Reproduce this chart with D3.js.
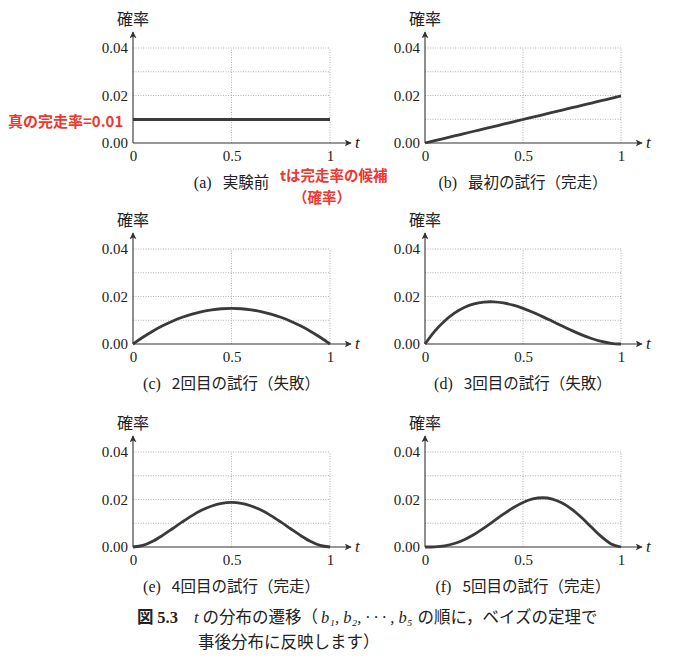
<!DOCTYPE html>
<html>
<head>
<meta charset="utf-8">
<script src="https://cdn.jsdelivr.net/npm/d3@7"></script>
<style>
  body { margin: 0; background: #fff; }
  svg { display: block; }
</style>
</head>
<body>
<svg width="685" height="659"></svg>
<script>
// t values (candidate completion rates)
var tValues = [0, 0.05, 0.1, 0.15, 0.2, 0.25, 0.3, 0.35, 0.4, 0.45, 0.5,
               0.55, 0.6, 0.65, 0.7, 0.75, 0.8, 0.85, 0.9, 0.95, 1];

// (a) before experiment
var probA = [0.0099, 0.0099, 0.0099, 0.0099, 0.0099, 0.0099, 0.0099, 0.0099, 0.0099, 0.0099, 0.0099,
             0.0099, 0.0099, 0.0099, 0.0099, 0.0099, 0.0099, 0.0099, 0.0099, 0.0099, 0.0099];
// (b) first trial (finish)
var probB = [0, 0.00099, 0.00198, 0.00297, 0.00396, 0.00495, 0.00594, 0.00693, 0.00792, 0.00891, 0.0099,
             0.01089, 0.01188, 0.01287, 0.01386, 0.01485, 0.01584, 0.01683, 0.01782, 0.01881, 0.0198];
// (c) 2nd trial (fail)
var probC = [0, 0.00285, 0.0054, 0.00765, 0.0096, 0.01125, 0.0126, 0.01365, 0.0144, 0.01485, 0.015,
             0.01485, 0.0144, 0.01365, 0.0126, 0.01125, 0.0096, 0.00765, 0.0054, 0.00285, 0];
// (d) 3rd trial (fail)
var probD = [0, 0.00542, 0.00972, 0.01301, 0.01536, 0.01688, 0.01764, 0.01775, 0.01728, 0.01634, 0.015,
             0.01337, 0.01152, 0.00956, 0.00756, 0.00563, 0.00384, 0.0023, 0.00108, 0.00029, 0];
// (e) 4th trial (finish)
var probE = [0, 0.00068, 0.00243, 0.00488, 0.00768, 0.01055, 0.01323, 0.01553, 0.01728, 0.01838, 0.01875,
             0.01838, 0.01728, 0.01553, 0.01323, 0.01055, 0.00768, 0.00488, 0.00243, 0.00068, 0];
// (f) 5th trial (finish)
var probF = [0, 0.00007, 0.00049, 0.00146, 0.00307, 0.00527, 0.00794, 0.01087, 0.01382, 0.01654, 0.01875,
             0.02022, 0.02074, 0.02019, 0.01852, 0.01582, 0.01229, 0.00829, 0.00437, 0.00129, 0];

var panelLetters = ["a", "b", "c", "d", "e", "f"];
var panelTitles = ["実験前", "最初の試行（完走）", "2回目の試行（失敗）",
                   "3回目の試行（失敗）", "4回目の試行（完走）", "5回目の試行（完走）"];
var panelData = [probA, probB, probC, probD, probE, probF];

var yTickValues = [0, 0.02, 0.04];
var yGridValues = [0.01, 0.02, 0.03, 0.04];
var xTickValues = [0, 0.5, 1];
var xTickLabels = ["0", "0.5", "1"];

var svg = d3.select("svg");
var serif = "'Liberation Serif', 'DejaVu Serif', serif";
var jp = "'Noto Sans CJK JP', sans-serif";
var red = "#f0362f";

var colX = [[133, 330], [425, 621]];
var rowY = [143, 344, 547];
var plotH = 95;

svg.append("defs").append("marker")
    .attr("id", "arrow")
    .attr("viewBox", "0 0 10 10")
    .attr("refX", 9).attr("refY", 5)
    .attr("markerWidth", 7).attr("markerHeight", 7)
    .attr("markerUnits", "userSpaceOnUse")
    .attr("orient", "auto")
  .append("path")
    .attr("d", "M0,0 L10,5 L0,10 L2.5,5 Z")
    .attr("fill", "#333");

panelData.forEach(function(data, i) {
  var cx = colX[i % 2], y0 = rowY[Math.floor(i / 2)];
  var x = d3.scaleLinear().domain([0, 1]).range([cx[0], cx[1]]);
  var y = d3.scaleLinear().domain([0, 0.04]).range([y0, y0 - plotH]);

  var g = svg.append("g");

  // dotted grid
  g.selectAll(".hgrid").data(yGridValues).enter().append("line")
      .attr("x1", x(0)).attr("x2", x(1))
      .attr("y1", function(d) { return y(d); })
      .attr("y2", function(d) { return y(d); })
      .attr("stroke", "#9a9a9a").attr("stroke-width", 0.8)
      .attr("stroke-dasharray", "1,1.5");
  g.selectAll(".vgrid").data([0.5, 1]).enter().append("line")
      .attr("x1", function(d) { return x(d); })
      .attr("x2", function(d) { return x(d); })
      .attr("y1", y(0)).attr("y2", y(0.04))
      .attr("stroke", "#9a9a9a").attr("stroke-width", 0.8)
      .attr("stroke-dasharray", "1,1.5");

  // axes with arrows
  g.append("line")
      .attr("x1", x(0)).attr("x2", x(0))
      .attr("y1", y(0)).attr("y2", y0 - 111)
      .attr("stroke", "#333").attr("stroke-width", 1.1)
      .attr("marker-end", "url(#arrow)");
  g.append("line")
      .attr("x1", x(0)).attr("x2", x(1) + 21)
      .attr("y1", y(0)).attr("y2", y(0))
      .attr("stroke", "#333").attr("stroke-width", 1.1)
      .attr("marker-end", "url(#arrow)");

  // y tick labels
  var yAxis = g.append("g")
      .attr("transform", "translate(" + x(0) + ",0)")
      .call(d3.axisLeft(y).tickValues(yTickValues).tickFormat(d3.format(".2f")).tickSize(0).tickPadding(5));
  yAxis.select(".domain").remove();
  yAxis.selectAll("text")
      .style("font-family", serif).style("font-size", "15px").attr("fill", "#222");

  // x tick labels
  var xAxis = g.append("g")
      .attr("transform", "translate(0," + y0 + ")")
      .call(d3.axisBottom(x).tickValues(xTickValues)
          .tickFormat(function(d, k) { return xTickLabels[k]; }).tickSize(0).tickPadding(7));
  xAxis.select(".domain").remove();
  xAxis.selectAll("text")
      .style("font-family", serif).style("font-size", "15px").attr("fill", "#222");

  // axis titles
  g.append("text")
      .attr("x", x(0) - 16).attr("y", y0 - 118)
      .style("font-family", jp).style("font-size", "16px").attr("fill", "#222")
      .text("確率");
  g.append("text")
      .attr("x", x(1) + 25).attr("y", y0 + 5)
      .style("font-family", serif).style("font-style", "italic")
      .style("font-size", "17px").attr("fill", "#222")
      .text("t");

  // curve
  var line = d3.line()
      .x(function(d, k) { return x(tValues[k]); })
      .y(function(d) { return y(d); })
      .curve(d3.curveCatmullRom);
  g.append("path")
      .datum(data)
      .attr("d", line)
      .attr("fill", "none")
      .attr("stroke", "#3a3a3a")
      .attr("stroke-width", 2.8);

  // caption
  var cap = g.append("text")
      .attr("x", (x(0) + x(1)) / 2).attr("y", y0 + 45)
      .attr("text-anchor", "middle")
      .style("font-size", "15.5px").attr("fill", "#222");
  cap.append("tspan").style("font-family", serif).style("font-size", "16px")
      .text("(" + panelLetters[i] + ")");
  cap.append("tspan").style("font-family", jp).attr("dx", 11)
      .text(panelTitles[i]);
});

// red annotations
svg.append("text")
    .attr("x", 8).attr("y", 127)
    .style("font-family", jp)
    .style("font-weight", "bold").style("font-size", "15px").attr("fill", red)
    .text("真の完走率=0.01");
svg.append("text")
    .attr("x", 280).attr("y", 181)
    .style("font-family", jp)
    .style("font-weight", "bold").style("font-size", "14.5px").attr("fill", red)
    .text("tは完走率の候補");
svg.append("text")
    .attr("x", 322).attr("y", 203)
    .attr("text-anchor", "middle")
    .style("font-family", jp)
    .style("font-weight", "bold").style("font-size", "14.5px").attr("fill", red)
    .text("（確率）");

// figure caption
var fig = svg.append("text")
    .attr("x", 137).attr("y", 623)
    .style("font-family", jp).style("font-size", "16.5px").attr("fill", "#222");
fig.append("tspan").style("font-weight", "bold").text("図 ");
fig.append("tspan").style("font-family", serif).style("font-weight", "bold").text("5.3");
fig.append("tspan").attr("dx", 16).style("font-family", serif).style("font-style", "italic").text("t");
fig.append("tspan").attr("dx", 4).text("の分布の遷移（");
fig.append("tspan").attr("dx", 3).style("font-family", serif).style("font-style", "italic")
    .text("b₁, b₂, · · · , b₅");
fig.append("tspan").attr("dx", 5).text("の順に，ベイズの定理で");

svg.append("text")
    .attr("x", 198).attr("y", 648)
    .style("font-family", jp).style("font-size", "16.5px").attr("fill", "#222")
    .text("事後分布に反映します）");
</script>
</body>
</html>
